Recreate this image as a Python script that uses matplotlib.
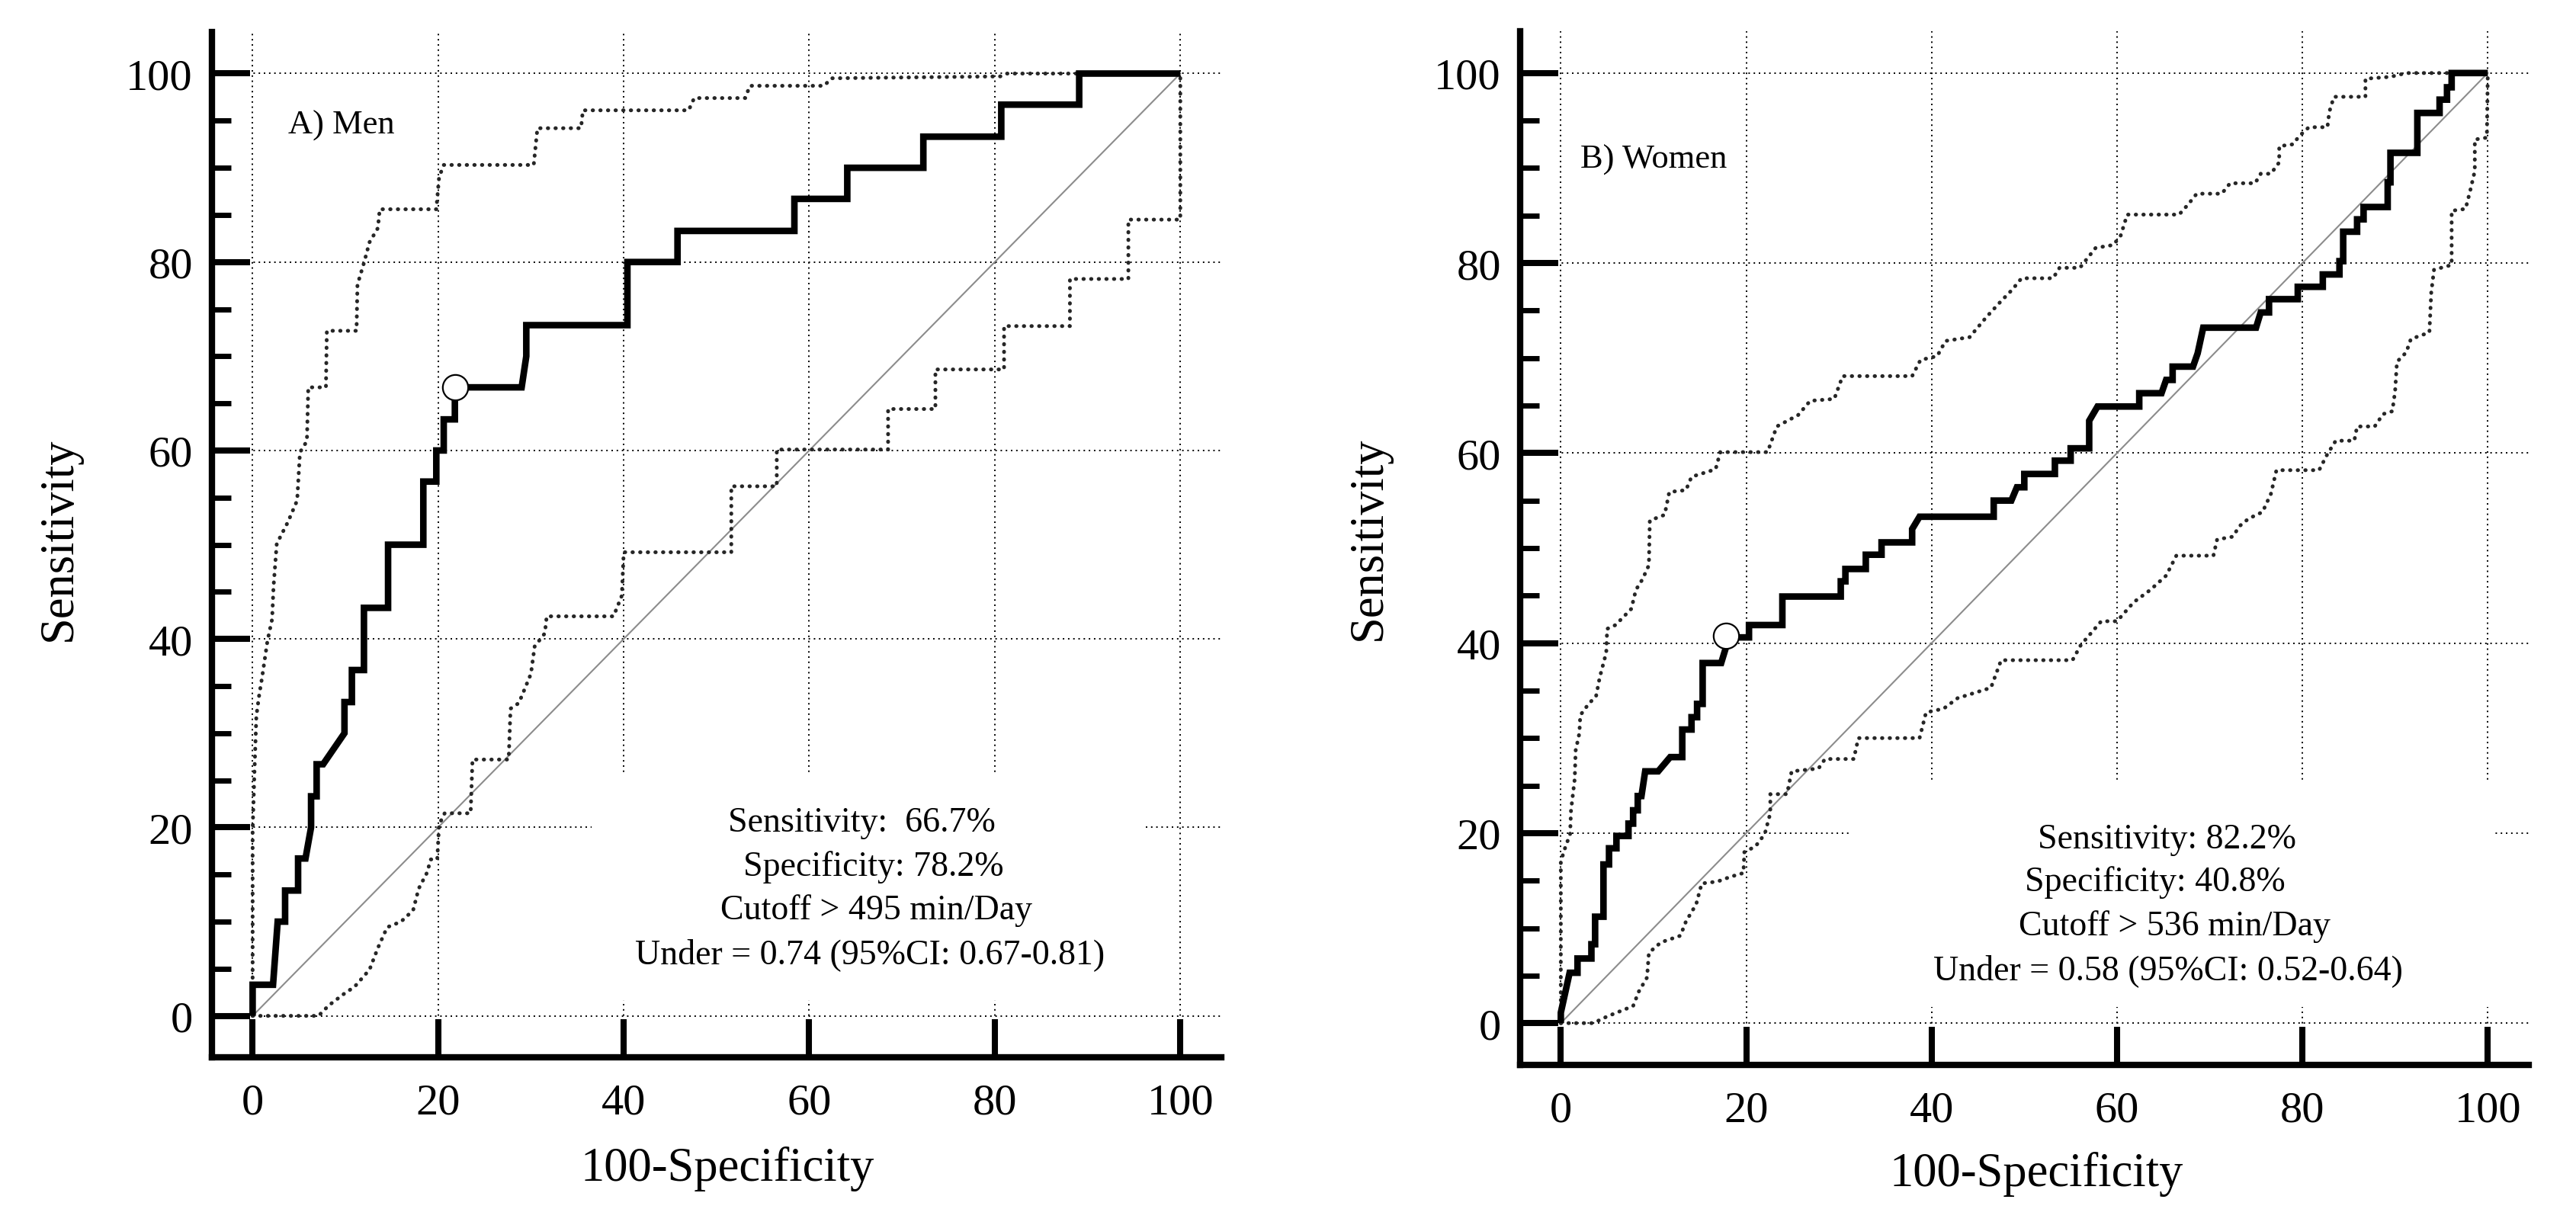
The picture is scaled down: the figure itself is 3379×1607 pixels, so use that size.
import matplotlib
matplotlib.use("Agg")
import matplotlib.pyplot as plt
from matplotlib.patches import Rectangle
from matplotlib.ticker import MultipleLocator

plt.rcParams['font.family'] = ['Liberation Serif', 'DejaVu Serif']

# ---------------- data: Men ----------------
men_roc_x = [0, 0, 2.2, 2.7, 3.5, 3.5, 4.9, 4.9, 5.7, 6.3, 6.3, 6.9, 6.9, 7.6, 9.9, 9.9,
             10.7, 10.7, 12.0, 12.0, 14.6, 14.6, 18.4, 18.4, 19.8, 19.8, 20.6, 20.6,
             21.8, 21.8, 29.0, 29.5, 29.5, 40.4, 40.4, 45.8, 45.8, 58.4, 58.4, 64.1,
             64.1, 72.3, 72.3, 80.7, 80.7, 89.1, 89.1, 100]
men_roc_y = [0, 3.3, 3.3, 10.0, 10.0, 13.3, 13.3, 16.7, 16.7, 20.0, 23.3, 23.3, 26.7, 26.7, 30.0, 33.3,
             33.3, 36.7, 36.7, 43.3, 43.3, 50.0, 50.0, 56.7, 56.7, 60.0, 60.0, 63.3,
             63.3, 66.7, 66.7, 70.0, 73.3, 73.3, 80.0, 80.0, 83.3, 83.3, 86.7, 86.7,
             90.0, 90.0, 93.3, 93.3, 96.7, 96.7, 100, 100]

men_upper_x = [0, 0, 0.2, 0.4, 0.7, 1.0, 1.6, 2.1, 2.25, 2.6, 3.8, 4.8, 5.1, 5.85, 6.0, 7.9,
               8.0, 11.2, 11.3, 12.0, 12.6, 13.5, 13.7, 19.8, 20.1, 20.6, 30.3, 30.7, 35.4,
               35.6, 47.0, 47.6, 53.1, 53.6, 61.6, 62.4, 80.6, 81.3, 100]
men_upper_y = [0, 19.7, 26.0, 31.8, 34.0, 35.8, 39.8, 42.1, 45.5, 50.1, 52.4, 54.7, 59.8, 61.0, 66.7, 66.7,
               72.7, 72.7, 77.6, 79.9, 82.1, 83.6, 85.6, 85.6, 89.0, 90.3, 90.3, 94.2, 94.2,
               96.1, 96.1, 97.4, 97.4, 98.7, 98.7, 99.5, 99.7, 100, 100]

men_lower_x = [0, 7.1, 8.2, 9.8, 11.0, 12.6, 13.5, 14.5, 16.0, 17.3, 17.9, 18.8, 19.2, 19.9,
               20.1, 20.7, 23.5, 23.7, 27.6, 27.8, 28.7, 30.0, 30.4, 31.5, 31.7, 38.9, 39.8,
               40.0, 51.6, 51.6, 56.5, 56.5, 68.5, 68.5, 73.6, 73.6, 81.0, 81.0, 88.1, 88.1,
               94.4, 94.4, 100, 100]
men_lower_y = [0, 0, 1.1, 2.3, 3.1, 4.9, 7.2, 9.4, 10.0, 11.2, 13.5, 15.2, 16.6, 16.6,
               20.3, 21.5, 21.5, 27.2, 27.2, 32.6, 33.2, 36.3, 39.2, 40.6, 42.4, 42.4, 44.6,
               49.2, 49.2, 56.2, 56.2, 60.1, 60.1, 64.4, 64.4, 68.6, 68.6, 73.2, 73.2, 78.2,
               78.2, 84.5, 84.5, 100]

men_cut = (21.8, 66.7)
men_text = ["Sensitivity:  66.7%", "Specificity: 78.2%",
            "Cutoff > 495 min/Day", "Under = 0.74 (95%CI: 0.67-0.81)"]

# ---------------- data: Women ----------------
women_roc_x = [0, 0, 0.95, 1.8, 1.8, 3.3, 3.3, 3.7, 3.7, 4.6, 4.6, 5.2, 5.2, 6.0, 6.0, 7.3, 7.3,
               7.8, 7.8, 8.3, 8.3, 8.7, 9.1, 10.5, 11.8, 13.1, 13.1, 14.1, 14.1, 14.7, 14.7,
               15.3, 15.3, 17.3, 17.8, 17.8, 20.3, 20.3, 23.9, 23.9, 30.2, 30.2, 30.7, 30.7,
               32.9, 32.9, 34.6, 34.6, 37.9, 37.9, 38.7, 46.7, 46.7, 48.6, 49.2, 50.0, 50.0,
               53.3, 53.3, 55.0, 55.0, 57.0, 57.0, 57.9, 62.4, 62.4, 64.8, 65.3, 66.0, 66.0,
               68.2, 68.7, 69.3, 75.0, 75.5, 76.4, 76.4, 79.5, 79.5, 82.2, 82.2, 84.0, 84.0,
               84.4, 84.4, 85.9, 85.9, 86.6, 86.6, 89.2, 89.2, 89.5, 89.5, 92.4, 92.4, 94.8,
               94.8, 95.6, 95.6, 96.1, 96.1, 100]
women_roc_y = [0, 1.1, 5.3, 5.3, 6.8, 6.8, 8.3, 8.3, 11.2, 11.2, 16.7, 16.7, 18.4, 18.4, 19.7, 19.7, 21.0,
               21.0, 22.4, 22.4, 23.9, 23.9, 26.5, 26.5, 28.0, 28.0, 30.9, 30.9, 32.2, 32.2, 33.6,
               33.6, 37.9, 37.9, 39.5, 40.6, 40.6, 41.9, 41.9, 44.9, 44.9, 46.5, 46.5, 47.8,
               47.8, 49.3, 49.3, 50.6, 50.6, 52.0, 53.3, 53.3, 55.0, 55.0, 56.4, 56.4, 57.8,
               57.8, 59.2, 59.2, 60.5, 60.5, 63.4, 64.9, 64.9, 66.3, 66.3, 67.7, 67.7, 69.1,
               69.1, 70.5, 73.2, 73.2, 74.8, 74.8, 76.2, 76.2, 77.5, 77.5, 78.8, 78.8, 80.2,
               80.2, 83.3, 83.3, 84.6, 84.6, 85.9, 85.9, 88.5, 88.5, 91.6, 91.6, 95.8, 95.8,
               97.2, 97.2, 98.5, 98.5, 100, 100]

women_upper_x = [0, 0, 0.3, 1.0, 1.1, 1.5, 1.6, 2.0, 2.1, 3.0, 3.8, 4.2, 4.9, 5.0, 5.9, 7.6, 8.1,
                 8.8, 9.5, 9.6, 11.2, 11.7, 13.5, 14.1, 16.7, 17.2, 22.3, 23.3, 25.6, 26.9,
                 29.5, 30.4, 37.9, 38.8, 40.6, 41.5, 44.1, 45.9, 47.5, 48.7, 49.7, 53.1, 53.8,
                 56.0, 56.8, 57.7, 59.6, 60.4, 61.1, 66.7, 67.7, 68.6, 71.3, 72.2, 74.9, 75.5,
                 76.6, 77.5, 77.5, 79.0, 79.6, 80.7, 82.7, 82.9, 83.4, 86.8, 86.8, 89.5, 91.2, 100]
women_upper_y = [0, 16.9, 18.0, 19.9, 22.4, 25.7, 28.7, 30.5, 32.4, 33.6, 34.4, 36.4, 39.0, 41.5, 41.9, 43.6, 45.6,
                 46.7, 48.2, 52.9, 53.5, 55.9, 56.1, 57.5, 58.3, 60.1, 60.1, 62.8, 64.0, 65.5,
                 65.7, 68.1, 68.1, 69.8, 70.2, 71.8, 72.2, 74.3, 76.0, 77.2, 78.4, 78.4, 79.5,
                 79.5, 80.5, 81.6, 81.9, 82.9, 85.1, 85.1, 86.2, 87.3, 87.3, 88.4, 88.4, 89.4,
                 89.4, 90.6, 92.3, 92.5, 93.3, 94.3, 94.3, 95.9, 97.5, 97.5, 99.4, 99.6, 100, 100]

women_lower_x = [0, 3.5, 5.0, 7.8, 8.4, 9.3, 9.5, 10.8, 12.9, 13.5, 14.6, 15.2, 16.9, 18.3, 19.7,
                 19.8, 21.0, 22.0, 22.6, 22.6, 24.4, 24.9, 27.8, 28.5, 31.6, 32.1, 38.7, 39.4,
                 41.3, 42.8, 46.4, 47.5, 55.2, 56.1, 58.3, 60.0, 61.8, 63.6, 65.3, 66.4, 70.4,
                 70.8, 72.5, 73.2, 74.2, 75.7, 76.6, 77.2, 81.8, 82.7, 83.6, 85.6, 85.9, 87.8,
                 88.7, 89.7, 90.0, 90.2, 91.2, 91.7, 93.7, 93.9, 94.2, 96.1, 96.1, 97.6, 98.1,
                 98.6, 98.6, 99.9, 100]
women_lower_y = [0, 0, 0.7, 1.8, 3.3, 4.8, 7.4, 8.5, 9.2, 10.7, 12.5, 14.7, 14.9, 15.4, 15.8,
                 18.0, 18.6, 19.9, 22.1, 24.1, 24.1, 26.5, 26.8, 27.8, 27.8, 30.0, 30.0, 32.7,
                 33.1, 34.2, 35.3, 38.2, 38.2, 39.8, 42.3, 42.3, 44.3, 45.6, 47.1, 49.2, 49.2,
                 50.9, 51.2, 52.3, 53.1, 53.8, 55.7, 58.2, 58.2, 59.9, 61.3, 61.3, 62.8, 62.8,
                 64.1, 64.4, 66.5, 69.6, 70.6, 72.0, 72.7, 76.9, 79.3, 79.8, 85.5, 85.7, 87.6,
                 89.7, 93.0, 93.2, 100]

women_cut = (17.8, 40.8)
women_text = ["Sensitivity: 82.2%", "Specificity: 40.8%",
              "Cutoff > 536 min/Day", "Under = 0.58 (95%CI: 0.52-0.64)"]

panel_labels = ["A) Men", "B) Women"]
ticks = [0, 20, 40, 60, 80, 100]

fig = plt.figure(figsize=(33.8, 16.08), dpi=100)

panels = [
    dict(rect=[0.0822, 0.1368, 0.3917, 0.8364], roc=(men_roc_x, men_roc_y),
         up=(men_upper_x, men_upper_y), lo=(men_lower_x, men_lower_y), cut=men_cut,
         text=men_text, text_x=[65.7, 66.9, 67.2, 66.5], text_y=[19.6, 14.9, 10.3, 5.6],
         box=(36.5, 1.7, 59.7, 24.1), label=panel_labels[0], label_xy=(3.8, 93.7),
         ylab=(-0.129, 0.506), xlab=(0.511, -0.086)),
    dict(rect=[0.5899, 0.1306, 0.3914, 0.8433], roc=(women_roc_x, women_roc_y),
         up=(women_upper_x, women_upper_y), lo=(women_lower_x, women_lower_y), cut=women_cut,
         text=women_text, text_x=[65.4, 64.1, 66.2, 65.5], text_y=[18.5, 14.0, 9.3, 4.7],
         box=(31.1, 1.7, 69.6, 23.8), label=panel_labels[1], label_xy=(2.1, 90.1),
         ylab=(-0.128, 0.51), xlab=(0.512, -0.083)),
]

for p in panels:
    ax = fig.add_axes(p['rect'])
    ax.set_xlim(-4.4, 104.4)
    ax.set_ylim(-4.4, 104.4)
    ax.set_xticks(ticks)
    ax.set_yticks(ticks)
    ax.set_xticklabels([str(t) for t in ticks])
    ax.set_yticklabels([str(t) for t in ticks])
    ax.yaxis.set_minor_locator(MultipleLocator(5))
    ax.set_axisbelow(True)
    for s in ['top', 'right']:
        ax.spines[s].set_visible(False)
    for s in ['left', 'bottom']:
        ax.spines[s].set_linewidth(6)
        ax.spines[s].set_capstyle('projecting')
    ax.tick_params(axis='both', which='major', direction='in', length=36, width=5.8,
                   labelsize=42, top=False, right=False)
    ax.tick_params(axis='x', which='major', pad=24)
    ax.tick_params(axis='y', which='major', pad=18)
    ax.tick_params(axis='y', which='minor', direction='in', length=18, width=5, right=False)
    ax.grid(True, which='major', color='black', linestyle=(0, (1, 2.5)), linewidth=1.4)

    ax.add_patch(Rectangle(p['box'][:2], p['box'][2], p['box'][3],
                           facecolor='white', edgecolor='none', zorder=1))

    ax.plot([0, 100], [0, 100], color='#8c8c8c', linewidth=1.5, zorder=2)
    for cx, cy in (p['up'], p['lo']):
        ax.plot(cx, cy, color='#262626', linewidth=3.6, linestyle=(0, (0.1, 1.9)),
                dash_capstyle='round', zorder=3)
    ax.plot(p['roc'][0], p['roc'][1], color='black', linewidth=6.2,
            solid_joinstyle='miter', solid_capstyle='butt', zorder=4)
    ax.plot([p['cut'][0]], [p['cut'][1]], marker='o', markersize=24,
            markerfacecolor='white', markeredgecolor='black', markeredgewidth=1.6,
            linestyle='none', zorder=5)

    for t, tx, ty in zip(p['text'], p['text_x'], p['text_y']):
        ax.text(tx, ty, t, fontsize=33, ha='center', va='baseline', zorder=6)
    ax.text(p['label_xy'][0], p['label_xy'][1], p['label'], fontsize=32,
            ha='left', va='baseline', zorder=6)

    ax.set_xlabel('100-Specificity', fontsize=45)
    ax.set_ylabel('Sensitivity', fontsize=45)
    ax.xaxis.set_label_coords(*p['xlab'])
    ax.yaxis.set_label_coords(*p['ylab'])

fig.savefig('out.png', dpi=100)
